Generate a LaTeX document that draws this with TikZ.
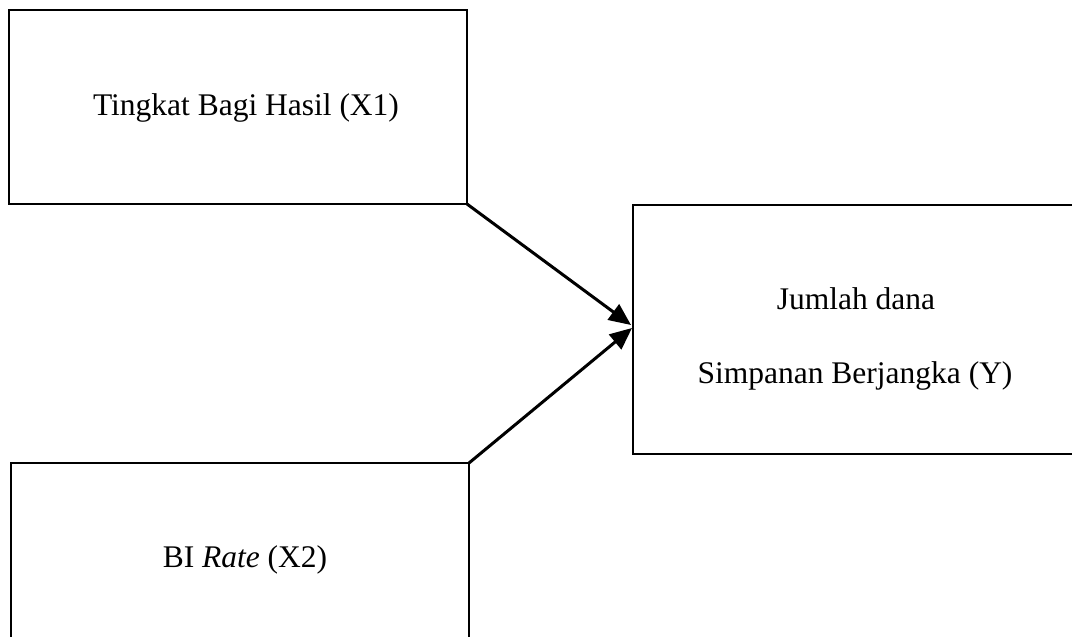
\documentclass[tikz,border=0pt]{standalone}
\usepackage{fontspec}
\setmainfont{Liberation Serif}
\usetikzlibrary{arrows.meta}
\tikzset{
  box/.style={draw=black, line width=1.2pt, inner sep=0pt, outer sep=0pt, rectangle},
  lbl/.style={anchor=base, inner sep=0pt, font=\fontsize{31.5}{37.8}\selectfont},
  conn/.style={draw=black, line width=3pt, -{Triangle[length=22pt,width=19pt]}, shorten >=0pt}
}
\begin{document}
\begin{tikzpicture}[x=1pt,y=-1pt]
\clip (0,0) rectangle (1072,637);
\fill[white] (0,0) rectangle (1072,637);
\node[box, minimum width=458pt, minimum height=194pt] (x1) at (238,107) {};
\node[box, minimum width=467pt, minimum height=249pt] (yb) at (866.5,329.5) {};
\node[box, minimum width=458pt, minimum height=217pt] (x2) at (240,571.5) {};
\node[lbl] (tx1) at (246,115) {Tingkat Bagi Hasil (X1)};
\node[lbl] (ty1) at (856,309) {Jumlah dana};
\node[lbl] (ty2) at (855,383) {Simpanan Berjangka (Y)};
\node[lbl] (tx2) at (245,567) {BI \textit{Rate} (X2)};
\coordinate (t1) at (631,325);
\coordinate (t2) at (632,328);
\draw[conn] (x1.south east) -- (t1);
\draw[conn] (x2.north east) -- (t2);
\end{tikzpicture}
\end{document}
